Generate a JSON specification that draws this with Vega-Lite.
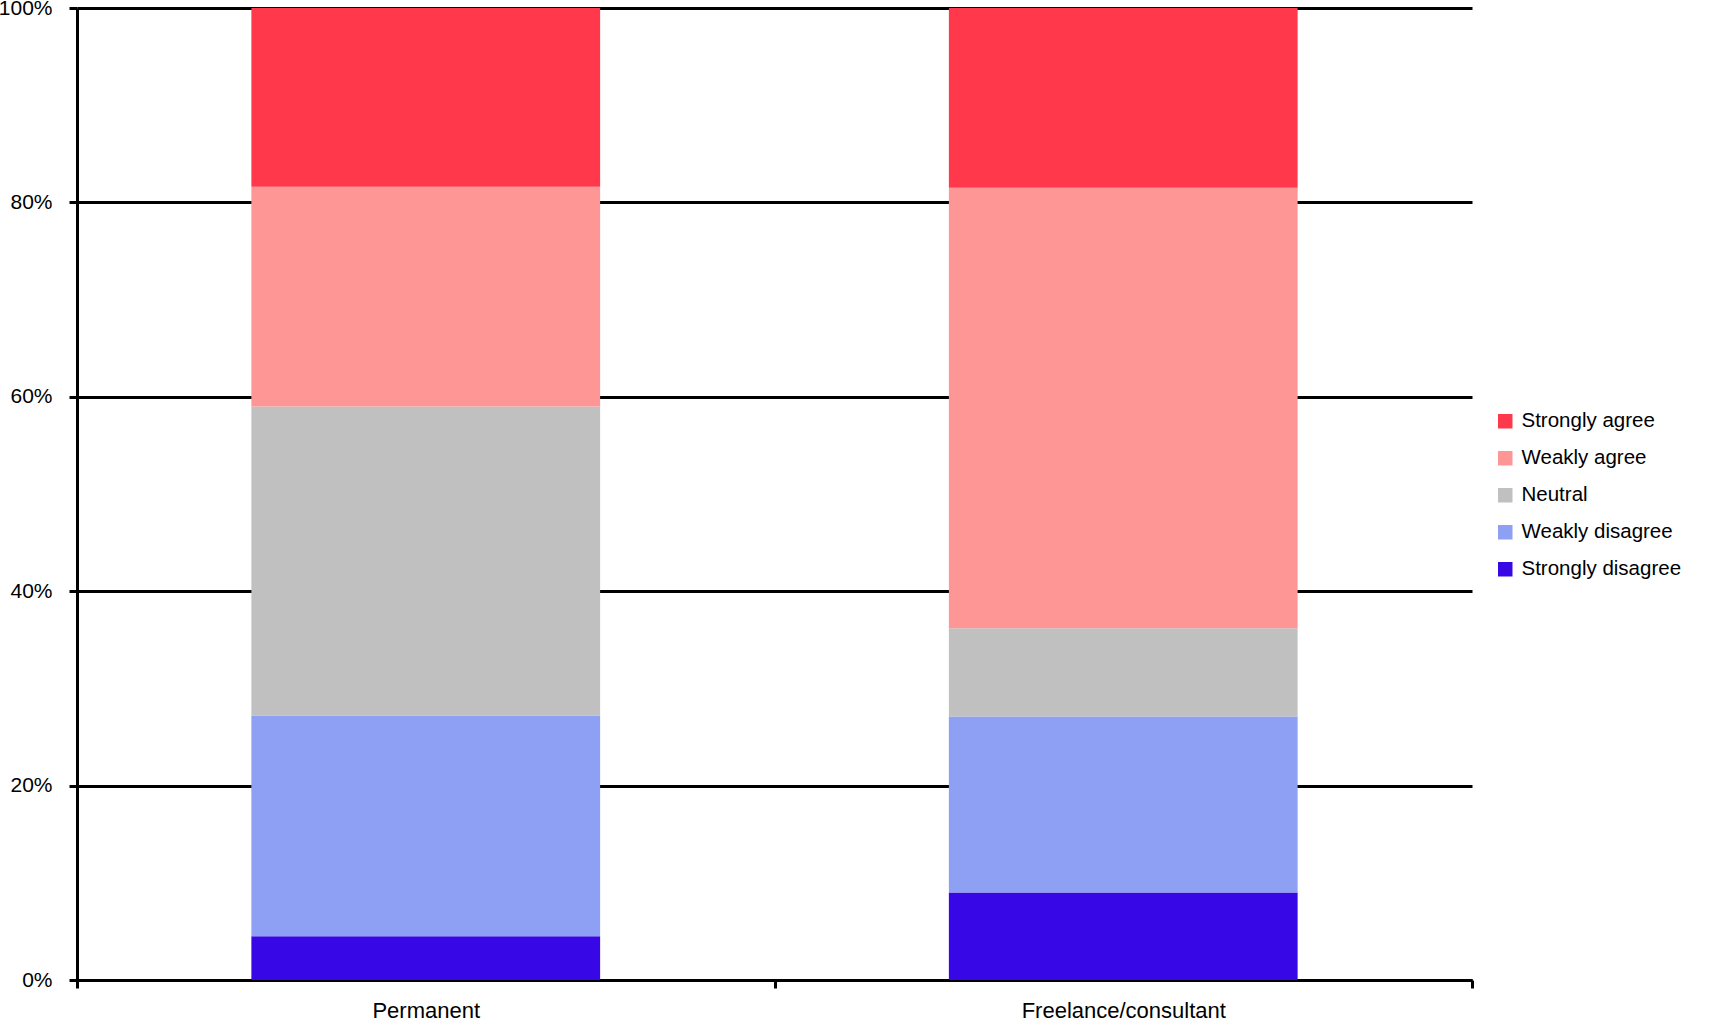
{
  "$schema": "https://vega.github.io/schema/vega-lite/v6.json",
  "width": 1395,
  "height": 972,
  "autosize": {"type": "none"},
  "padding": {"left": 77, "top": 8, "right": 246, "bottom": 41},
  "background": "white",
  "config": {"view": {"stroke": null}, "font": "Liberation Sans"},
  "data": {
    "values": [
      {"contract": "Permanent", "response": "Strongly disagree", "share": 4.5},
      {"contract": "Permanent", "response": "Weakly disagree", "share": 22.7},
      {"contract": "Permanent", "response": "Neutral", "share": 31.8},
      {"contract": "Permanent", "response": "Weakly agree", "share": 22.6},
      {"contract": "Permanent", "response": "Strongly agree", "share": 18.4},
      {"contract": "Freelance/consultant", "response": "Strongly disagree", "share": 9.0},
      {"contract": "Freelance/consultant", "response": "Weakly disagree", "share": 18.1},
      {"contract": "Freelance/consultant", "response": "Neutral", "share": 9.1},
      {"contract": "Freelance/consultant", "response": "Weakly agree", "share": 45.3},
      {"contract": "Freelance/consultant", "response": "Strongly agree", "share": 18.5}
    ]
  },
  "transform": [
    {"calculate": "indexof(['Strongly disagree','Weakly disagree','Neutral','Weakly agree','Strongly agree'], datum.response)", "as": "stack_rank"}
  ],
  "mark": {"type": "bar", "width": {"band": 0.5}},
  "encoding": {
    "x": {
      "field": "contract",
      "type": "nominal",
      "sort": ["Permanent", "Freelance/consultant"],
      "scale": {"paddingInner": 0, "paddingOuter": 0},
      "axis": {
        "title": null,
        "labelAngle": 0,
        "labelLimit": 0,
        "tickBand": "extent",
        "domainColor": "black",
        "domainWidth": 3,
        "tickColor": "black",
        "tickWidth": 3,
        "tickSize": 8,
        "labelFontSize": 22,
        "labelColor": "black",
        "labelPadding": 12,
        "labelFont": "Liberation Sans"
      }
    },
    "y": {
      "field": "share",
      "type": "quantitative",
      "stack": "normalize",
      "scale": {"domain": [0, 1]},
      "axis": {
        "title": null,
        "values": [0, 0.2, 0.4, 0.6, 0.8, 1],
        "format": ".0%",
        "grid": true,
        "gridColor": "black",
        "gridWidth": 3,
        "gridOpacity": 1,
        "domainColor": "black",
        "domainWidth": 3,
        "tickColor": "black",
        "tickWidth": 3,
        "tickSize": 8,
        "labelFontSize": 21,
        "labelColor": "black",
        "labelPadding": 17,
        "labelFont": "Liberation Sans"
      }
    },
    "order": {"field": "stack_rank", "type": "quantitative", "sort": "ascending"},
    "color": {
      "field": "response",
      "type": "nominal",
      "scale": {
        "domain": ["Strongly agree", "Weakly agree", "Neutral", "Weakly disagree", "Strongly disagree"],
        "range": ["#FF394B", "#FF9696", "#C0C0C0", "#8EA0F4", "#3807E6"]
      },
      "legend": {
        "title": null,
        "orient": "none",
        "legendX": 1418,
        "legendY": 403,
        "symbolType": "square",
        "symbolSize": 210,
        "symbolStrokeWidth": 0,
        "labelFontSize": 20.5,
        "labelColor": "black",
        "labelFont": "Liberation Sans",
        "labelOffset": 6,
        "rowPadding": 16,
        "padding": 0
      }
    }
  }
}
